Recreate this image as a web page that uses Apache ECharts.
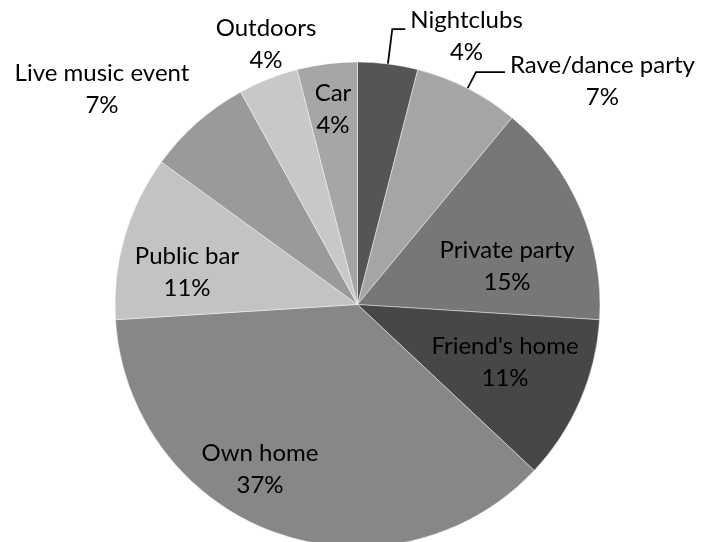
<!DOCTYPE html>
<html>
<head>
<meta charset="utf-8">
<script src="https://cdn.jsdelivr.net/npm/echarts@6/dist/echarts.min.js"></script>
<style>
  html, body { margin: 0; padding: 0; background: #fff; }
  #chart { width: 702px; height: 542px; }
</style>
</head>
<body>
<div id="chart"></div>
<script>
// Where people were when they took part (share of respondents, %)
const categories = ['Nightclubs', 'Rave/dance party', 'Private party', "Friend's home", 'Own home', 'Public bar', 'Live music event', 'Outdoors', 'Car'];
const shares = [4, 7, 15, 11, 37, 11, 7, 4, 4];

// Grey tone for each slice, in the same order as the categories
const sliceColors = ['#555555', '#a5a5a5', '#777777', '#474747', '#878787', '#c3c3c3', '#9a9a9a', '#c8c8c8', '#a6a6a6'];

// Labels that sit outside the pie and hang from a leader line
const leaderLabels = {
  'Nightclubs': { length: 35, length2: 13, padTop: 14 },
  'Rave/dance party': { length: 18.4, length2: 29, padTop: 18 }
};

// Centre of every other label block (px)
const labelSpots = {
  'Private party': [507, 266],
  "Friend's home": [505, 362],
  'Own home': [260, 469],
  'Public bar': [187, 272],
  'Live music event': [102, 89],
  'Outdoors': [266, 44],
  'Car': [333, 109]
};

const labelFont = { fontFamily: 'Lato', fontSize: 24, color: '#000', lineHeight: 32, align: 'center' };

const pieData = categories.map((name, i) => {
  const lead = leaderLabels[name];
  const item = { name: name, value: shares[i], itemStyle: { color: sliceColors[i] } };
  if (lead) {
    item.label = { position: 'outside', padding: [lead.padTop, 0, 0, 0] };
    item.labelLine = { show: true, length: lead.length, length2: lead.length2 };
  } else {
    item.label = { position: 'inside' };
    item.labelLine = { show: false };
  }
  return item;
});

const chart = echarts.init(document.getElementById('chart'), null, { renderer: 'canvas' });
chart.setOption({
  animation: false,
  backgroundColor: '#fff',
  series: [{
    type: 'pie',
    center: [357.5, 304.5],
    radius: 242.5,
    startAngle: 90,
    clockwise: true,
    avoidLabelOverlap: false,
    itemStyle: { borderColor: 'rgba(255,255,255,0.55)', borderWidth: 0.8 },
    emphasis: { disabled: true },
    label: {
      show: true,
      formatter: '{a|{b}}\n{a|{c}%}',
      rich: { a: labelFont },
      fontFamily: 'Lato',
      fontSize: 24,
      color: '#000',
      lineHeight: 32
    },
    labelLine: { lineStyle: { color: '#000', width: 1.75 }, smooth: false },
    labelLayout: function (params) {
      const spot = labelSpots[categories[params.dataIndex]];
      if (!spot) return {};
      return { x: spot[0], y: spot[1], align: 'center', verticalAlign: 'middle' };
    },
    data: pieData
  }]
});
</script>
</body>
</html>
